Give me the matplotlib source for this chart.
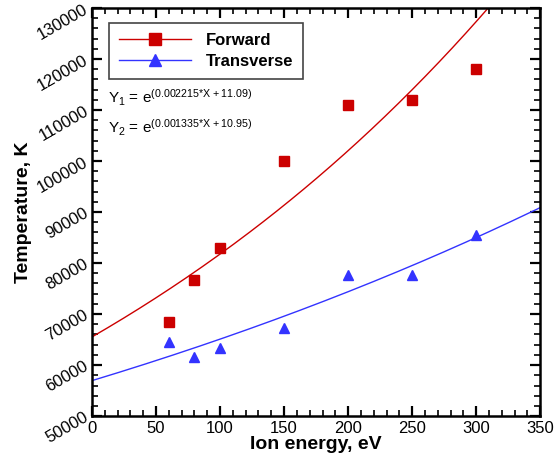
import numpy as np
import matplotlib
matplotlib.use("Agg")
import matplotlib.pyplot as plt
from matplotlib.ticker import MultipleLocator
from matplotlib.lines import Line2D

plt.rcParams['font.family'] = ['Liberation Sans', 'DejaVu Sans']
plt.rcParams['mathtext.default'] = 'regular'

ion_energy = [60, 80, 100, 150, 200, 250, 300]
temp_forward = [68400, 76700, 83000, 100000, 111000, 112000, 118000]
temp_transverse = [64500, 61600, 63300, 67300, 77600, 77600, 85500]

# exponential fits shown on the chart: Y = exp(a*X + b)
fit_forward = (0.002215, 11.09)
fit_transverse = (0.001335, 10.95)

red = '#cc0000'
blue = '#3333ff'

fig = plt.figure(figsize=(5.57, 4.66), dpi=100)
ax = fig.add_axes([0.165, 0.107, 0.805, 0.876])

xfit = np.linspace(0, 350, 200)
ax.plot(xfit, np.exp(fit_forward[0] * xfit + fit_forward[1]), color=red, lw=1)
ax.plot(xfit, np.exp(fit_transverse[0] * xfit + fit_transverse[1]), color=blue, lw=1)

ax.plot(ion_energy, temp_forward, 's', color=red, ms=7.5)
ax.plot(ion_energy, temp_transverse, '^', color=blue, ms=7.5)

# legend entries with line + marker
handles = [Line2D([], [], color=red, lw=1, marker='s', ms=8),
           Line2D([], [], color=blue, lw=1, marker='^', ms=8)]
leg = ax.legend(handles, ['Forward', 'Transverse'], loc='upper left',
                bbox_to_anchor=(0.038, 0.963), fancybox=False, framealpha=1,
                edgecolor='#444444', handlelength=4.3, borderpad=0.6,
                labelspacing=0.35, handletextpad=0.9, borderaxespad=0,
                prop={'weight': 'bold', 'size': 12})
leg.get_frame().set_linewidth(1.2)

ax.text(0.036, 0.78, 'Y$_1$ = e$^{(0.002215{*}X + 11.09)}$', transform=ax.transAxes,
        fontsize=11, va='center')
ax.text(0.036, 0.705, 'Y$_2$ = e$^{(0.001335{*}X + 10.95)}$', transform=ax.transAxes,
        fontsize=11, va='center')

ax.set_xlim(0, 350)
ax.set_ylim(50000, 130000)
ax.xaxis.set_major_locator(MultipleLocator(50))
ax.xaxis.set_minor_locator(MultipleLocator(10))
ax.yaxis.set_major_locator(MultipleLocator(10000))
ax.yaxis.set_minor_locator(MultipleLocator(2000))
ax.tick_params(which='both', direction='in', top=True, right=True, width=1.2,
               labelsize=12)
ax.tick_params(which='major', length=7, width=1.6)
ax.tick_params(which='minor', length=4)
for lab in ax.get_yticklabels():
    lab.set_rotation(30)
    lab.set_rotation_mode('anchor')
    lab.set_ha('right')
    lab.set_va('center')
for s in ax.spines.values():
    s.set_linewidth(1.8)

ax.set_xlabel('Ion energy, eV', fontsize=14, fontweight='bold', labelpad=0)
ax.set_ylabel('Temperature, K', fontsize=14, fontweight='bold', labelpad=2)

fig.savefig('out.png', dpi=100)
